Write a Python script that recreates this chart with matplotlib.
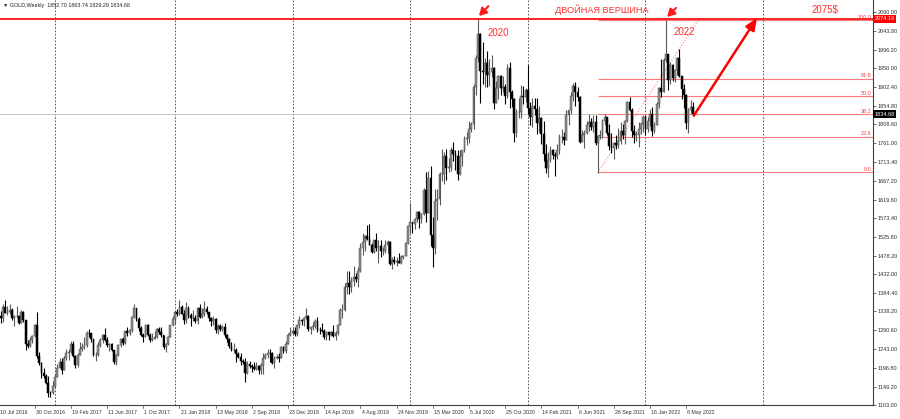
import matplotlib
matplotlib.use('Agg')
import matplotlib.pyplot as plt
import matplotlib.transforms as mtransforms
import numpy as np
import pandas as pd

plt.rcParams['font.family'] = ['Liberation Sans', 'DejaVu Sans']

# ---------------- data (weekly GOLD, bars starting 10 Jul 2016) ----------------
first_bar = '2016-07-10'
first_open = 1366.0

closes = [
    # 2016
    1327, 1322, 1350, 1335, 1336, 1341, 1321, 1326, 1328, 1310, 1338, 1316, 1257, 1251, 1266, 1276,
    1304, 1225, 1208, 1183, 1177, 1159, 1134, 1133, 1151,
    # 2017
    1173, 1196, 1210, 1191, 1220, 1234, 1236, 1257, 1226, 1203, 1229, 1243, 1249, 1253, 1285, 1284,
    1268, 1228, 1228, 1253, 1267, 1280, 1266, 1254, 1256, 1242, 1212, 1228, 1255, 1269, 1258, 1289,
    1284, 1291, 1325, 1346, 1320, 1297, 1280, 1275, 1304, 1280, 1266, 1269, 1275, 1293, 1287, 1280,
    1248, 1256, 1275, 1303,
    # 2018
    1320, 1338, 1332, 1350, 1333, 1316, 1347, 1330, 1322, 1323, 1313, 1347, 1325, 1332, 1345, 1336,
    1323, 1314, 1320, 1291, 1302, 1294, 1298, 1279, 1270, 1252, 1241, 1241, 1231, 1223, 1214, 1211,
    1184, 1206, 1201, 1198, 1194, 1200, 1192, 1203, 1222, 1228, 1235, 1233, 1209, 1222, 1223, 1222,
    1248, 1238, 1256, 1280,
    # 2019
    1285, 1289, 1282, 1303, 1317, 1314, 1322, 1327, 1294, 1298, 1302, 1313, 1292, 1291, 1290, 1275,
    1286, 1279, 1286, 1277, 1284, 1305, 1341, 1341, 1399, 1409, 1399, 1415, 1426, 1419, 1440, 1497,
    1513, 1527, 1520, 1506, 1488, 1517, 1497, 1504, 1489, 1490, 1505, 1514, 1458, 1468, 1462, 1464,
    1460, 1476, 1478, 1511,
    # 2020
    1552, 1562, 1557, 1571, 1589, 1570, 1584, 1643, 1585, 1674, 1530, 1498, 1617, 1620, 1683, 1683,
    1729, 1700, 1702, 1743, 1735, 1730, 1683, 1730, 1743, 1771, 1774, 1798, 1810, 1902, 1975, 2035,
    1944, 1940, 1964, 1933, 1940, 1950, 1862, 1900, 1930, 1899, 1902, 1879, 1951, 1889, 1872, 1788,
    1839, 1840, 1881, 1877,
    # 2021
    1895, 1850, 1828, 1856, 1848, 1813, 1824, 1784, 1734, 1700, 1720, 1745, 1732, 1729, 1744, 1777,
    1777, 1769, 1831, 1844, 1881, 1905, 1891, 1877, 1764, 1781, 1787, 1808, 1815, 1802, 1814, 1763,
    1780, 1781, 1818, 1827, 1788, 1754, 1750, 1761, 1757, 1768, 1793, 1783, 1818, 1865, 1846, 1792,
    1783, 1783, 1798, 1809, 1828,
    # 2022
    1797, 1817, 1835, 1791, 1808, 1860, 1899, 1889, 1970, 1985, 1921, 1958, 1925, 1946, 1975, 1931,
    1897, 1883, 1811, 1846, 1853, 1834.68,
]

highs = [
    # 2016
    1375, 1340, 1357, 1367, 1352, 1358, 1346, 1329, 1352, 1330, 1343, 1339, 1317, 1267, 1273, 1278,
    1307, 1338, 1237, 1212, 1195, 1182, 1175, 1138, 1163,
    # 2017
    1182, 1207, 1220, 1220, 1226, 1245, 1244, 1264, 1264, 1228, 1233, 1261, 1260, 1273, 1288, 1295,
    1283, 1270, 1236, 1262, 1271, 1282, 1296, 1274, 1260, 1260, 1242, 1230, 1256, 1270, 1274, 1290,
    1300, 1293, 1327, 1357, 1345, 1325, 1302, 1283, 1306, 1306, 1285, 1284, 1290, 1296, 1299, 1299,
    1279, 1260, 1276, 1304,
    # 2018
    1326, 1338, 1345, 1366, 1355, 1341, 1362, 1352, 1335, 1341, 1330, 1350, 1356, 1348, 1365, 1353,
    1337, 1324, 1327, 1322, 1307, 1307, 1303, 1309, 1281, 1272, 1262, 1260, 1246, 1236, 1234, 1219,
    1220, 1214, 1214, 1205, 1211, 1211, 1203, 1208, 1233, 1234, 1243, 1243, 1237, 1225, 1230, 1233,
    1251, 1252, 1264, 1283,
    # 2019
    1298, 1298, 1298, 1304, 1326, 1320, 1323, 1346, 1330, 1300, 1311, 1320, 1324, 1300, 1310, 1293,
    1288, 1287, 1289, 1304, 1288, 1306, 1348, 1358, 1411, 1439, 1440, 1425, 1453, 1434, 1449, 1510,
    1535, 1531, 1555, 1557, 1510, 1519, 1535, 1519, 1517, 1500, 1518, 1517, 1516, 1474, 1478, 1475,
    1484, 1481, 1481, 1514,
    # 2020
    1553, 1611, 1563, 1574, 1590, 1591, 1585, 1649, 1689, 1692, 1703, 1575, 1645, 1645, 1690, 1747,
    1739, 1747, 1723, 1751, 1765, 1745, 1745, 1744, 1745, 1779, 1789, 1818, 1815, 1909, 1984, 2075,
    2039, 2015, 1976, 1992, 1973, 1983, 1953, 1917, 1933, 1933, 1931, 1911, 1960, 1966, 1896, 1875,
    1848, 1875, 1907, 1906,
    # 2021
    1900, 1959, 1865, 1875, 1875, 1875, 1855, 1826, 1816, 1760, 1740, 1755, 1746, 1740, 1759, 1784,
    1797, 1790, 1845, 1846, 1890, 1913, 1916, 1903, 1879, 1795, 1795, 1818, 1834, 1825, 1832, 1832,
    1782, 1795, 1823, 1834, 1827, 1809, 1787, 1765, 1781, 1800, 1814, 1810, 1819, 1868, 1877, 1849,
    1808, 1792, 1815, 1814, 1831,
    # 2022
    1831, 1828, 1848, 1853, 1815, 1865, 1902, 1974, 1975, 2070, 1960, 1966, 1960, 1948, 1978, 1998,
    1920, 1910, 1885, 1849, 1869, 1863.74,
]

lows = [
    # 2016
    1310, 1310, 1312, 1334, 1330, 1333, 1316, 1302, 1323, 1306, 1312, 1311, 1241, 1246, 1250, 1260,
    1275, 1222, 1203, 1172, 1171, 1157, 1122, 1124, 1131,
    # 2017
    1146, 1173, 1195, 1180, 1190, 1215, 1216, 1233, 1224, 1195, 1198, 1228, 1238, 1245, 1250, 1275,
    1262, 1227, 1214, 1227, 1248, 1260, 1264, 1250, 1240, 1238, 1207, 1204, 1225, 1250, 1253, 1256,
    1277, 1280, 1286, 1322, 1315, 1288, 1276, 1261, 1275, 1276, 1262, 1264, 1268, 1271, 1282, 1274,
    1243, 1236, 1253, 1274,
    # 2018
    1302, 1307, 1326, 1330, 1331, 1307, 1310, 1322, 1302, 1314, 1308, 1306, 1322, 1323, 1326, 1333,
    1315, 1302, 1304, 1285, 1282, 1290, 1289, 1274, 1262, 1246, 1238, 1237, 1211, 1221, 1204, 1206,
    1160, 1182, 1196, 1187, 1191, 1192, 1180, 1182, 1182, 1218, 1221, 1211, 1207, 1196, 1218, 1212,
    1222, 1233, 1235, 1256,
    # 2019
    1276, 1279, 1276, 1277, 1297, 1304, 1302, 1320, 1290, 1281, 1291, 1297, 1287, 1281, 1286, 1270,
    1266, 1266, 1277, 1274, 1266, 1280, 1305, 1322, 1340, 1383, 1381, 1387, 1402, 1412, 1400, 1437,
    1480, 1491, 1517, 1505, 1484, 1486, 1490, 1459, 1475, 1480, 1485, 1486, 1456, 1445, 1457, 1452,
    1459, 1458, 1471, 1477,
    # 2020
    1509, 1535, 1536, 1546, 1563, 1547, 1561, 1582, 1563, 1586, 1504, 1451, 1482, 1567, 1606, 1667,
    1659, 1670, 1688, 1692, 1716, 1693, 1670, 1681, 1704, 1740, 1757, 1763, 1790, 1797, 1882, 1965,
    1863, 1911, 1903, 1902, 1906, 1929, 1848, 1873, 1873, 1882, 1890, 1860, 1875, 1850, 1853, 1764,
    1776, 1824, 1825, 1859,
    # 2021
    1864, 1834, 1808, 1802, 1831, 1785, 1790, 1760, 1717, 1687, 1676, 1713, 1721, 1678, 1721, 1733,
    1762, 1756, 1771, 1808, 1835, 1868, 1856, 1867, 1761, 1770, 1750, 1784, 1791, 1794, 1790, 1758,
    1687, 1772, 1774, 1808, 1782, 1745, 1737, 1721, 1746, 1750, 1760, 1772, 1759, 1814, 1843, 1778,
    1762, 1766, 1753, 1784, 1790,
    # 2022
    1782, 1790, 1805, 1780, 1788, 1807, 1850, 1878, 1890, 1966, 1895, 1910, 1917, 1915, 1934, 1929,
    1872, 1850, 1798, 1787, 1836, 1829.29,
]

last_open = 1852.70

price_ticks = [2090.00, 2043.80, 1996.20, 1950.00, 1902.40, 1854.80, 1808.60, 1761.00, 1713.40,
               1667.20, 1619.60, 1573.40, 1525.80, 1478.20, 1432.00, 1384.40, 1338.20, 1290.60,
               1243.00, 1196.80, 1149.20, 1103.00]

date_labels = ['10 Jul 2016', '30 Oct 2016', '19 Feb 2017', '11 Jun 2017', '1 Oct 2017',
               '21 Jan 2018', '13 May 2018', '2 Sep 2018', '23 Dec 2018', '14 Apr 2019',
               '4 Aug 2019', '24 Nov 2019', '15 Mar 2020', '5 Jul 2020', '25 Oct 2020',
               '14 Feb 2021', '6 Jun 2021', '26 Sep 2021', '16 Jan 2022', '8 May 2022']
date_label_step = 16

hline_price = 2074.19
fib_levels = [0.0, 23.6, 38.2, 50.0, 61.8, 100.0]
fib_low_price = 1687.8
fib_high_price = 2070.0
fib_low_bar = 265
fib_high_bar = 309.3
target_bar = 335.3
target_price = 2076.0

header = '\u25bc GOLD,Weekly  1852.70 1863.74 1829.29 1834.68'

# ---------------- derived arrays ----------------
c = np.array(closes, dtype=float)
o = np.array([first_open] + closes[:-1], dtype=float)
o[-1] = last_open
h = np.maximum(np.array(highs, dtype=float), np.maximum(o, c))
l = np.minimum(np.array(lows, dtype=float), np.minimum(o, c))
n = len(c)
x = np.arange(n)
bar_dates = pd.date_range(first_bar, periods=400, freq='7D')

# ---------------- figure ----------------
W, H = 900, 419
fig = plt.figure(figsize=(W / 100, H / 100), dpi=100)
fig.patch.set_facecolor('white')
ax = fig.add_axes([0, 14 / H, 873 / W, 405 / H])
ax.set_facecolor('white')
XMIN, XMAX = 0.685, 386.6
ax.set_xlim(XMIN, XMAX)
ax.set_ylim(1103.0, 2121.4)

for s in ['left', 'top']:
    ax.spines[s].set_visible(False)
for s in ['bottom', 'right']:
    ax.spines[s].set_color('#404040')
    ax.spines[s].set_linewidth(0.8)

# year separators (first bar of every year)
years = bar_dates.year
sep_idx = [i for i in range(1, len(bar_dates)) if years[i] != years[i - 1]]
for i in sep_idx:
    if XMIN < i < XMAX:
        ax.axvline(i, color='#3a3a3a', lw=0.6, ls=(0, (2, 2)), zorder=1)

# current price line
ax.axhline(c[-1], color='#c4c4c4', lw=0.7, zorder=1)

# candles
up = c >= o
dn = ~up
ax.vlines(x[up], l[up], h[up], color='#5a5a5a', lw=0.8, zorder=3)
ax.vlines(x[dn], l[dn], h[dn], color='#000000', lw=0.8, zorder=3)
body = np.maximum(np.abs(c - o), 1.0)
bottom = np.minimum(o, c)
ax.bar(x[up], body[up], bottom=bottom[up], width=0.8, color='#8e8e8e',
       edgecolor='#4a4a4a', linewidth=0.35, zorder=4)
ax.bar(x[dn], body[dn], bottom=bottom[dn], width=0.8, color='#000000',
       edgecolor='#000000', linewidth=0.35, zorder=4)

# horizontal red level
ax.axhline(hline_price, color='#ff1010', lw=1.3, zorder=5)

# fibonacci retracement
rng = fib_high_price - fib_low_price
for lv in fib_levels:
    p = fib_low_price + rng * lv / 100.0
    ax.hlines(p, fib_low_bar, XMAX, color='#ff7a7a', lw=0.8, zorder=2)
    ax.text(XMAX - 0.8, p + 1.0, f'{lv:.1f}', ha='right', va='bottom', fontsize=4,
            color='#ff4040', zorder=6)
ax.plot([fib_low_bar, fib_high_bar], [fib_low_price, fib_high_price], color='#ff5a5a',
        lw=0.7, ls=(0, (1, 2)), zorder=2)

# big red forecast arrow
ax.annotate('', xy=(target_bar, target_price), xytext=(x[-1] + 0.4, c[-1] - 4),
            arrowprops=dict(arrowstyle='-|>,head_length=0.7,head_width=0.3',
                            color='#ff0000', lw=1.8, shrinkA=0, shrinkB=0), zorder=7)

# small arrows to the two tops
ax.annotate('', xy=(212.4, 2081.0), xytext=(216.6, 2106.0),
            arrowprops=dict(arrowstyle='-|>,head_length=0.45,head_width=0.25',
                            color='#ff1a1a', lw=1.5, shrinkA=0, shrinkB=0), zorder=7)
ax.annotate('', xy=(295.6, 2078.6), xytext=(299.5, 2101.5),
            arrowprops=dict(arrowstyle='-|>,head_length=0.45,head_width=0.25',
                            color='#ff1a1a', lw=1.5, shrinkA=0, shrinkB=0), zorder=7)

# annotations
red_txt = '#ff3030'
ax.text(220.8, 2037.5, '2020', ha='center', va='center', fontsize=7, color=red_txt, zorder=8)
ax.text(303.3, 2041.5, '2022', ha='center', va='center', fontsize=7, color=red_txt, zorder=8)
ax.text(266.8, 2096.0, 'ДВОЙНАЯ ВЕРШИНА', ha='center', va='center', fontsize=6.6,
        color=red_txt, zorder=8)
ax.text(365.4, 2096.0, '2075$', ha='center', va='center', fontsize=7, color=red_txt, zorder=8)

# price axis
ax.yaxis.tick_right()
ax.set_yticks(price_ticks)
ax.set_yticklabels([f'{v:.2f}' for v in price_ticks])
ax.tick_params(axis='y', length=2, width=0.5, labelsize=4, pad=1.5, colors='#303030')
ax.set_xticks([])

transR = mtransforms.blended_transform_factory(ax.transAxes, ax.transData)
ax.text(1.0015, hline_price, f'{hline_price:.2f}', transform=transR, ha='left', va='center',
        fontsize=4, color='white', clip_on=False, zorder=10,
        bbox=dict(boxstyle='square,pad=0.3', fc='#ff0000', ec='none'))
ax.text(1.0015, c[-1], f'{c[-1]:.2f}', transform=transR, ha='left', va='center',
        fontsize=4, color='white', clip_on=False, zorder=10,
        bbox=dict(boxstyle='square,pad=0.3', fc='#000000', ec='none'))

# time axis
transB = mtransforms.blended_transform_factory(ax.transData, ax.transAxes)
for k, lab in enumerate(date_labels):
    i = k * date_label_step
    ax.plot([i, i], [0, -0.008], transform=transB, color='#404040', lw=0.5, clip_on=False)
    ax.text(i + 0.5, -0.0175, lab, transform=transB, ha='left', va='center', fontsize=3.8,
            color='#303030', clip_on=False)

# header
fig.text(3 / W, 1 - 5.5 / H, header, ha='left', va='center', fontsize=3.9, color='#202020')

fig.savefig('out.png', dpi=100, facecolor='white')
